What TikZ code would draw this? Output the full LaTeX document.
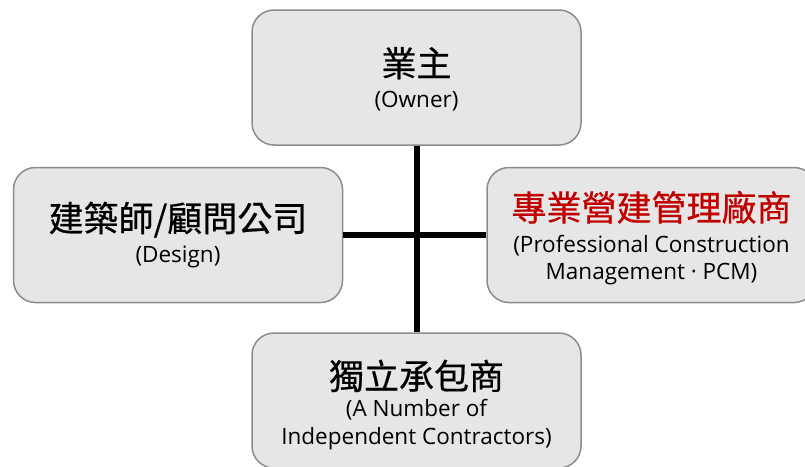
\documentclass[tikz,border=0pt]{standalone}
\usepackage{fontspec}
\setmainfont{Open Sans}
\newfontfamily\cjk[FakeBold=0.6]{Noto Sans CJK TC}
\definecolor{boxfill}{HTML}{E6E6E6}
\definecolor{boxline}{HTML}{8C8C8C}
\definecolor{pcmred}{HTML}{C00000}
\newcommand{\ttl}[1]{{\cjk\fontsize{35}{40}\selectfont #1}}
\begin{document}
\begin{tikzpicture}[x=1pt,y=-1pt,
  orgbox/.style={draw=boxline, line width=1.5pt, fill=boxfill, rounded corners=22pt,
    minimum width=329pt, minimum height=135pt, align=center, inner sep=0pt, text=black,
    font=\fontsize{22.5}{27.5}\selectfont},
  link/.style={line width=6pt, black}]
\useasboundingbox (0,0) rectangle (805,466);
\clip (0,0) rectangle (805,466);
\node[orgbox] (owner) at (416.5,77.5) {\rule{0pt}{33pt}\ttl{業主}\\[4pt](Owner)};
\node[orgbox] (design) at (178,235) {\ttl{建築師/顧問公司}\\[4pt](Design)};
\node[orgbox] (pcm) at (651.5,235) {\rule{0pt}{36pt}\ttl{\textcolor{pcmred}{專業營建管理廠商}}\\[4pt](Professional Construction\\Management · PCM)};
\node[orgbox] (contr) at (416.5,400.5) {\rule{0pt}{38pt}\ttl{獨立承包商}\\[0pt](A Number of\\Independent Contractors)};
\draw[link] (owner.south) -- (contr.north);
\draw[link] (design.east) -- (pcm.west);
\end{tikzpicture}
\end{document}
